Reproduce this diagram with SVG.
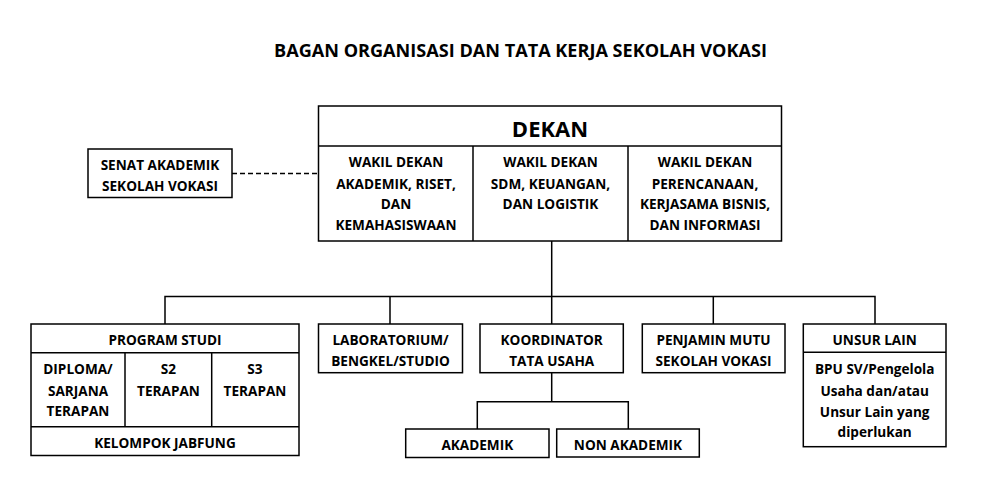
<svg xmlns="http://www.w3.org/2000/svg" width="989" height="499" viewBox="0 0 989 499">
<style>
rect{fill:#fff;stroke:#000;stroke-width:1.5}
.d{stroke:#000;stroke-width:1.5;fill:none}
text{font-family:"Open Sans",Lato,"Liberation Sans",sans-serif;font-weight:bold;font-size:13.6px;text-anchor:middle;fill:#000}
.t{font-size:18.1px}
.k{font-size:22px}
</style>
<rect x="0" y="0" width="989" height="499" style="stroke:none"/>
<text class="t" x="520.5" y="57">BAGAN ORGANISASI DAN TATA KERJA SEKOLAH VOKASI</text>
<g id="connectors">
<path class="d" d="M232 173.5H318" stroke-dasharray="5,3"/>
<path class="d" d="M551.7 241V296.5M165 324V296.5H875V324M390 296.5V324M551.7 296.5V324M713.3 296.5V324M551.7 373V401.7M477.3 429V401.7H628.3V429"/>
</g>
<g id="dekan">
<rect x="318.5" y="106" width="463" height="135"/>
<line class="d" x1="318.5" y1="146" x2="781.5" y2="146"/>
<line class="d" x1="473" y1="146" x2="473" y2="241"/>
<line class="d" x1="628" y1="146" x2="628" y2="241"/>
<text class="k" x="550" y="137">DEKAN</text>
<text x="396" y="167">WAKIL DEKAN</text>
<text x="396" y="189">AKADEMIK, RISET,</text>
<text x="396" y="209">DAN</text>
<text x="396" y="230">KEMAHASISWAAN</text>
<text x="550.5" y="167">WAKIL DEKAN</text>
<text x="550.5" y="189">SDM, KEUANGAN,</text>
<text x="550.5" y="209">DAN LOGISTIK</text>
<text x="705" y="167">WAKIL DEKAN</text>
<text x="705" y="189">PERENCANAAN,</text>
<text x="705" y="209">KERJASAMA BISNIS,</text>
<text x="705" y="230">DAN INFORMASI</text>
</g>
<g id="senat">
<rect x="88" y="149" width="144" height="48.5"/>
<text x="160" y="169.5">SENAT AKADEMIK</text>
<text x="160" y="190.5">SEKOLAH VOKASI</text>
</g>
<g id="prodi">
<rect x="31" y="324" width="268" height="131.5"/>
<line class="d" x1="31" y1="352.7" x2="299" y2="352.7"/>
<line class="d" x1="31" y1="426.7" x2="299" y2="426.7"/>
<line class="d" x1="125" y1="352.7" x2="125" y2="426.7"/>
<line class="d" x1="211.7" y1="352.7" x2="211.7" y2="426.7"/>
<text x="165" y="345">PROGRAM STUDI</text>
<text x="78" y="374">DIPLOMA/</text>
<text x="78" y="395.5">SARJANA</text>
<text x="78" y="416">TERAPAN</text>
<text x="168.5" y="374">S2</text>
<text x="168.5" y="395.5">TERAPAN</text>
<text x="255" y="374">S3</text>
<text x="255" y="395.5">TERAPAN</text>
<text x="165" y="448">KELOMPOK JABFUNG</text>
</g>
<g id="lab">
<rect x="318.5" y="324" width="144" height="48.7"/>
<text x="390.5" y="345">LABORATORIUM/</text>
<text x="390.5" y="366">BENGKEL/STUDIO</text>
</g>
<g id="koordinator">
<rect x="480" y="324" width="143.3" height="48.7"/>
<text x="551.7" y="345">KOORDINATOR</text>
<text x="551.7" y="366">TATA USAHA</text>
</g>
<g id="akademik">
<rect x="405.7" y="429" width="143.3" height="28.5"/>
<text x="477.3" y="450">AKADEMIK</text>
</g>
<g id="nonakademik">
<rect x="556.7" y="429" width="142.6" height="28"/>
<text x="628" y="450">NON AKADEMIK</text>
</g>
<g id="penjamin">
<rect x="642.3" y="324" width="142.7" height="48.7"/>
<text x="713.5" y="345">PENJAMIN MUTU</text>
<text x="713.5" y="366">SEKOLAH VOKASI</text>
</g>
<g id="unsurlain">
<rect x="803.3" y="324" width="142.7" height="122.7"/>
<line class="d" x1="803.3" y1="352.3" x2="946" y2="352.3"/>
<text x="874.7" y="345">UNSUR LAIN</text>
<text x="874.7" y="374">BPU SV/Pengelola</text>
<text x="874.7" y="396">Usaha dan/atau</text>
<text x="874.7" y="416.5">Unsur Lain yang</text>
<text x="874.7" y="437">diperlukan</text>
</g>
</svg>
